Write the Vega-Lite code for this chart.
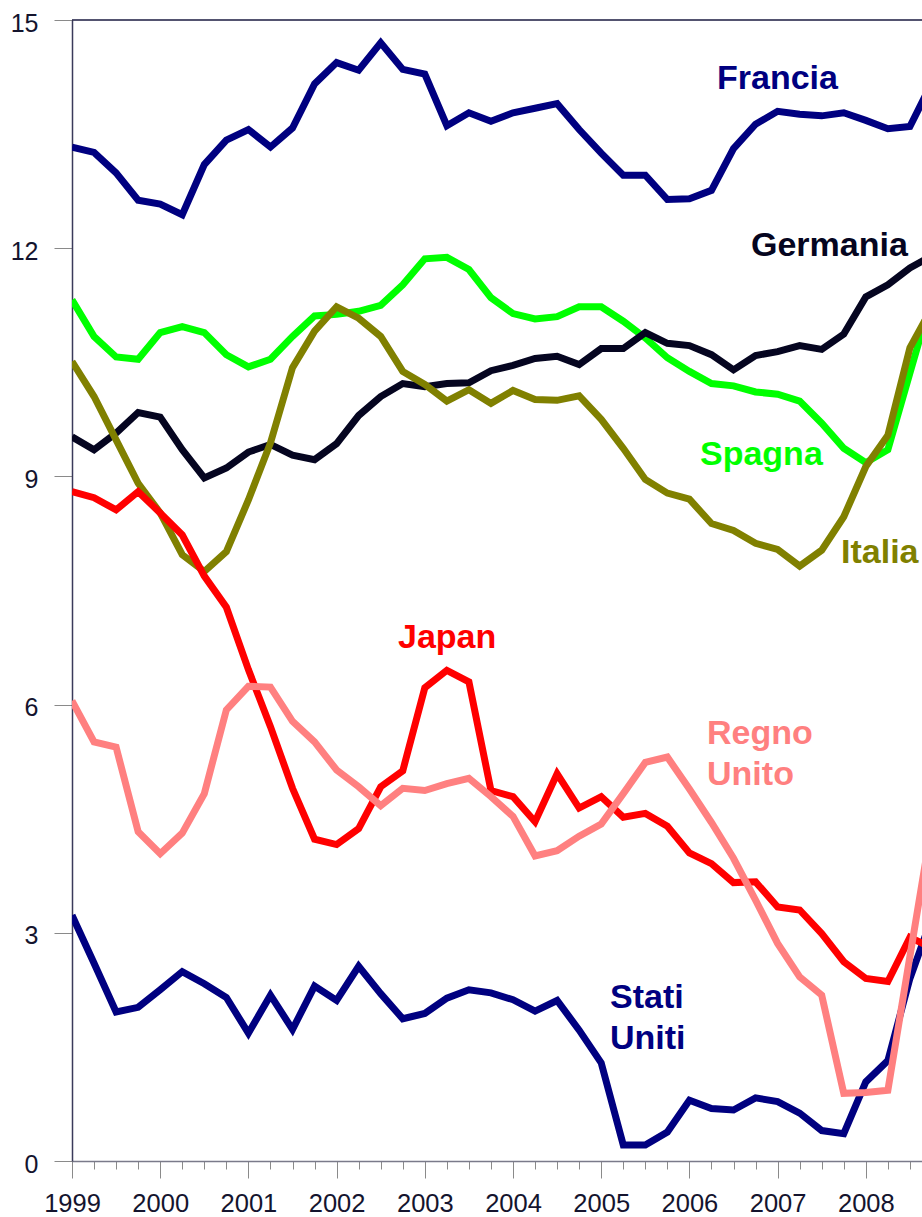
{
  "$schema": "https://vega.github.io/schema/vega-lite/v6.json",
  "width": 850,
  "height": 1141,
  "autosize": {"type": "none"},
  "padding": {"left": 72, "top": 20, "right": 0, "bottom": 56},
  "background": "white",
  "config": {
    "view": {"stroke": null},
    "font": "Liberation Sans",
    "axisY": {"tickSize": 18, "tickColor": "#8a8a8a", "tickWidth": 1, "domainColor": "#3a3a5a", "domainWidth": 1.5, "labelFontSize": 25, "labelColor": "#14142e", "labelFont": "Liberation Sans", "labelPadding": 16, "labelOffset": 3, "grid": false, "title": null}
  },
  "datasets": {
    "series": [
      {"t":1999.00,"s":"Spagna","v":11.32},{"t":1999.25,"s":"Spagna","v":10.84},{"t":1999.50,"s":"Spagna","v":10.57},{"t":1999.75,"s":"Spagna","v":10.54},
      {"t":2000.00,"s":"Spagna","v":10.89},{"t":2000.25,"s":"Spagna","v":10.97},{"t":2000.50,"s":"Spagna","v":10.89},{"t":2000.75,"s":"Spagna","v":10.60},
      {"t":2001.00,"s":"Spagna","v":10.44},{"t":2001.25,"s":"Spagna","v":10.54},{"t":2001.50,"s":"Spagna","v":10.84},{"t":2001.75,"s":"Spagna","v":11.11},
      {"t":2002.00,"s":"Spagna","v":11.13},{"t":2002.25,"s":"Spagna","v":11.17},{"t":2002.50,"s":"Spagna","v":11.25},{"t":2002.75,"s":"Spagna","v":11.52},
      {"t":2003.00,"s":"Spagna","v":11.86},{"t":2003.25,"s":"Spagna","v":11.88},{"t":2003.50,"s":"Spagna","v":11.72},{"t":2003.75,"s":"Spagna","v":11.35},
      {"t":2004.00,"s":"Spagna","v":11.14},{"t":2004.25,"s":"Spagna","v":11.07},{"t":2004.50,"s":"Spagna","v":11.10},{"t":2004.75,"s":"Spagna","v":11.23},
      {"t":2005.00,"s":"Spagna","v":11.23},{"t":2005.25,"s":"Spagna","v":11.04},{"t":2005.50,"s":"Spagna","v":10.82},{"t":2005.75,"s":"Spagna","v":10.56},
      {"t":2006.00,"s":"Spagna","v":10.38},{"t":2006.25,"s":"Spagna","v":10.22},{"t":2006.50,"s":"Spagna","v":10.19},{"t":2006.75,"s":"Spagna","v":10.11},
      {"t":2007.00,"s":"Spagna","v":10.08},{"t":2007.25,"s":"Spagna","v":9.99},{"t":2007.50,"s":"Spagna","v":9.70},{"t":2007.75,"s":"Spagna","v":9.37},
      {"t":2008.00,"s":"Spagna","v":9.18},{"t":2008.25,"s":"Spagna","v":9.35},{"t":2008.50,"s":"Spagna","v":10.36},{"t":2008.75,"s":"Spagna","v":11.36},

      {"t":1999.00,"s":"Germania","v":9.52},{"t":1999.25,"s":"Germania","v":9.35},{"t":1999.50,"s":"Germania","v":9.57},{"t":1999.75,"s":"Germania","v":9.84},
      {"t":2000.00,"s":"Germania","v":9.78},{"t":2000.25,"s":"Germania","v":9.35},{"t":2000.50,"s":"Germania","v":8.98},{"t":2000.75,"s":"Germania","v":9.11},
      {"t":2001.00,"s":"Germania","v":9.32},{"t":2001.25,"s":"Germania","v":9.42},{"t":2001.50,"s":"Germania","v":9.28},{"t":2001.75,"s":"Germania","v":9.22},
      {"t":2002.00,"s":"Germania","v":9.43},{"t":2002.25,"s":"Germania","v":9.80},{"t":2002.50,"s":"Germania","v":10.05},{"t":2002.75,"s":"Germania","v":10.22},
      {"t":2003.00,"s":"Germania","v":10.18},{"t":2003.25,"s":"Germania","v":10.22},{"t":2003.50,"s":"Germania","v":10.23},{"t":2003.75,"s":"Germania","v":10.39},
      {"t":2004.00,"s":"Germania","v":10.46},{"t":2004.25,"s":"Germania","v":10.55},{"t":2004.50,"s":"Germania","v":10.58},{"t":2004.75,"s":"Germania","v":10.47},
      {"t":2005.00,"s":"Germania","v":10.68},{"t":2005.25,"s":"Germania","v":10.68},{"t":2005.50,"s":"Germania","v":10.89},{"t":2005.75,"s":"Germania","v":10.75},
      {"t":2006.00,"s":"Germania","v":10.72},{"t":2006.25,"s":"Germania","v":10.60},{"t":2006.50,"s":"Germania","v":10.40},{"t":2006.75,"s":"Germania","v":10.59},
      {"t":2007.00,"s":"Germania","v":10.64},{"t":2007.25,"s":"Germania","v":10.72},{"t":2007.50,"s":"Germania","v":10.67},{"t":2007.75,"s":"Germania","v":10.87},
      {"t":2008.00,"s":"Germania","v":11.36},{"t":2008.25,"s":"Germania","v":11.52},{"t":2008.50,"s":"Germania","v":11.74},{"t":2008.75,"s":"Germania","v":11.90},

      {"t":1999.00,"s":"Italia","v":10.51},{"t":1999.25,"s":"Italia","v":10.05},{"t":1999.50,"s":"Italia","v":9.48},{"t":1999.75,"s":"Italia","v":8.91},
      {"t":2000.00,"s":"Italia","v":8.52},{"t":2000.25,"s":"Italia","v":7.97},{"t":2000.50,"s":"Italia","v":7.75},{"t":2000.75,"s":"Italia","v":8.01},
      {"t":2001.00,"s":"Italia","v":8.69},{"t":2001.25,"s":"Italia","v":9.44},{"t":2001.50,"s":"Italia","v":10.43},{"t":2001.75,"s":"Italia","v":10.91},
      {"t":2002.00,"s":"Italia","v":11.23},{"t":2002.25,"s":"Italia","v":11.08},{"t":2002.50,"s":"Italia","v":10.84},{"t":2002.75,"s":"Italia","v":10.38},
      {"t":2003.00,"s":"Italia","v":10.21},{"t":2003.25,"s":"Italia","v":9.99},{"t":2003.50,"s":"Italia","v":10.14},{"t":2003.75,"s":"Italia","v":9.96},
      {"t":2004.00,"s":"Italia","v":10.13},{"t":2004.25,"s":"Italia","v":10.01},{"t":2004.50,"s":"Italia","v":10.00},{"t":2004.75,"s":"Italia","v":10.06},
      {"t":2005.00,"s":"Italia","v":9.75},{"t":2005.25,"s":"Italia","v":9.37},{"t":2005.50,"s":"Italia","v":8.96},{"t":2005.75,"s":"Italia","v":8.78},
      {"t":2006.00,"s":"Italia","v":8.70},{"t":2006.25,"s":"Italia","v":8.38},{"t":2006.50,"s":"Italia","v":8.29},{"t":2006.75,"s":"Italia","v":8.12},
      {"t":2007.00,"s":"Italia","v":8.04},{"t":2007.25,"s":"Italia","v":7.82},{"t":2007.50,"s":"Italia","v":8.03},{"t":2007.75,"s":"Italia","v":8.47},
      {"t":2008.00,"s":"Italia","v":9.13},{"t":2008.25,"s":"Italia","v":9.54},{"t":2008.50,"s":"Italia","v":10.69},{"t":2008.75,"s":"Italia","v":11.22},

      {"t":1999.00,"s":"Francia","v":13.33},{"t":1999.25,"s":"Francia","v":13.26},{"t":1999.50,"s":"Francia","v":12.99},{"t":1999.75,"s":"Francia","v":12.63},
      {"t":2000.00,"s":"Francia","v":12.58},{"t":2000.25,"s":"Francia","v":12.44},{"t":2000.50,"s":"Francia","v":13.10},{"t":2000.75,"s":"Francia","v":13.42},
      {"t":2001.00,"s":"Francia","v":13.56},{"t":2001.25,"s":"Francia","v":13.33},{"t":2001.50,"s":"Francia","v":13.58},{"t":2001.75,"s":"Francia","v":14.16},
      {"t":2002.00,"s":"Francia","v":14.44},{"t":2002.25,"s":"Francia","v":14.34},{"t":2002.50,"s":"Francia","v":14.70},{"t":2002.75,"s":"Francia","v":14.35},
      {"t":2003.00,"s":"Francia","v":14.29},{"t":2003.25,"s":"Francia","v":13.61},{"t":2003.50,"s":"Francia","v":13.78},{"t":2003.75,"s":"Francia","v":13.67},
      {"t":2004.00,"s":"Francia","v":13.78},{"t":2004.25,"s":"Francia","v":13.84},{"t":2004.50,"s":"Francia","v":13.90},{"t":2004.75,"s":"Francia","v":13.56},
      {"t":2005.00,"s":"Francia","v":13.25},{"t":2005.25,"s":"Francia","v":12.96},{"t":2005.50,"s":"Francia","v":12.96},{"t":2005.75,"s":"Francia","v":12.64},
      {"t":2006.00,"s":"Francia","v":12.65},{"t":2006.25,"s":"Francia","v":12.76},{"t":2006.50,"s":"Francia","v":13.31},{"t":2006.75,"s":"Francia","v":13.63},
      {"t":2007.00,"s":"Francia","v":13.80},{"t":2007.25,"s":"Francia","v":13.76},{"t":2007.50,"s":"Francia","v":13.74},{"t":2007.75,"s":"Francia","v":13.78},
      {"t":2008.00,"s":"Francia","v":13.68},{"t":2008.25,"s":"Francia","v":13.57},{"t":2008.50,"s":"Francia","v":13.60},{"t":2008.75,"s":"Francia","v":14.18},

      {"t":1999.00,"s":"Stati Uniti","v":3.23},{"t":1999.25,"s":"Stati Uniti","v":2.60},{"t":1999.50,"s":"Stati Uniti","v":1.96},{"t":1999.75,"s":"Stati Uniti","v":2.02},
      {"t":2000.00,"s":"Stati Uniti","v":2.25},{"t":2000.25,"s":"Stati Uniti","v":2.49},{"t":2000.50,"s":"Stati Uniti","v":2.33},{"t":2000.75,"s":"Stati Uniti","v":2.15},
      {"t":2001.00,"s":"Stati Uniti","v":1.68},{"t":2001.25,"s":"Stati Uniti","v":2.18},{"t":2001.50,"s":"Stati Uniti","v":1.73},{"t":2001.75,"s":"Stati Uniti","v":2.30},
      {"t":2002.00,"s":"Stati Uniti","v":2.11},{"t":2002.25,"s":"Stati Uniti","v":2.56},{"t":2002.50,"s":"Stati Uniti","v":2.20},{"t":2002.75,"s":"Stati Uniti","v":1.87},
      {"t":2003.00,"s":"Stati Uniti","v":1.94},{"t":2003.25,"s":"Stati Uniti","v":2.14},{"t":2003.50,"s":"Stati Uniti","v":2.25},{"t":2003.75,"s":"Stati Uniti","v":2.21},
      {"t":2004.00,"s":"Stati Uniti","v":2.12},{"t":2004.25,"s":"Stati Uniti","v":1.97},{"t":2004.50,"s":"Stati Uniti","v":2.11},{"t":2004.75,"s":"Stati Uniti","v":1.72},
      {"t":2005.00,"s":"Stati Uniti","v":1.29},{"t":2005.25,"s":"Stati Uniti","v":0.21},{"t":2005.50,"s":"Stati Uniti","v":0.21},{"t":2005.75,"s":"Stati Uniti","v":0.38},
      {"t":2006.00,"s":"Stati Uniti","v":0.80},{"t":2006.25,"s":"Stati Uniti","v":0.69},{"t":2006.50,"s":"Stati Uniti","v":0.67},{"t":2006.75,"s":"Stati Uniti","v":0.83},
      {"t":2007.00,"s":"Stati Uniti","v":0.78},{"t":2007.25,"s":"Stati Uniti","v":0.63},{"t":2007.50,"s":"Stati Uniti","v":0.40},{"t":2007.75,"s":"Stati Uniti","v":0.36},
      {"t":2008.00,"s":"Stati Uniti","v":1.04},{"t":2008.25,"s":"Stati Uniti","v":1.32},{"t":2008.50,"s":"Stati Uniti","v":2.40},{"t":2008.75,"s":"Stati Uniti","v":3.20},

      {"t":1999.00,"s":"Japan","v":8.80},{"t":1999.25,"s":"Japan","v":8.72},{"t":1999.50,"s":"Japan","v":8.56},{"t":1999.75,"s":"Japan","v":8.80},
      {"t":2000.00,"s":"Japan","v":8.52},{"t":2000.25,"s":"Japan","v":8.23},{"t":2000.50,"s":"Japan","v":7.69},{"t":2000.75,"s":"Japan","v":7.28},
      {"t":2001.00,"s":"Japan","v":6.46},{"t":2001.25,"s":"Japan","v":5.71},{"t":2001.50,"s":"Japan","v":4.90},{"t":2001.75,"s":"Japan","v":4.23},
      {"t":2002.00,"s":"Japan","v":4.16},{"t":2002.25,"s":"Japan","v":4.37},{"t":2002.50,"s":"Japan","v":4.92},{"t":2002.75,"s":"Japan","v":5.13},
      {"t":2003.00,"s":"Japan","v":6.22},{"t":2003.25,"s":"Japan","v":6.45},{"t":2003.50,"s":"Japan","v":6.30},{"t":2003.75,"s":"Japan","v":4.87},
      {"t":2004.00,"s":"Japan","v":4.79},{"t":2004.25,"s":"Japan","v":4.46},{"t":2004.50,"s":"Japan","v":5.09},{"t":2004.75,"s":"Japan","v":4.64},
      {"t":2005.00,"s":"Japan","v":4.79},{"t":2005.25,"s":"Japan","v":4.52},{"t":2005.50,"s":"Japan","v":4.57},{"t":2005.75,"s":"Japan","v":4.40},
      {"t":2006.00,"s":"Japan","v":4.05},{"t":2006.25,"s":"Japan","v":3.91},{"t":2006.50,"s":"Japan","v":3.66},{"t":2006.75,"s":"Japan","v":3.67},
      {"t":2007.00,"s":"Japan","v":3.34},{"t":2007.25,"s":"Japan","v":3.30},{"t":2007.50,"s":"Japan","v":2.99},{"t":2007.75,"s":"Japan","v":2.62},
      {"t":2008.00,"s":"Japan","v":2.40},{"t":2008.25,"s":"Japan","v":2.36},{"t":2008.50,"s":"Japan","v":2.94},{"t":2008.75,"s":"Japan","v":2.80},

      {"t":1999.00,"s":"Regno Unito","v":6.05},{"t":1999.25,"s":"Regno Unito","v":5.51},{"t":1999.50,"s":"Regno Unito","v":5.44},{"t":1999.75,"s":"Regno Unito","v":4.33},
      {"t":2000.00,"s":"Regno Unito","v":4.04},{"t":2000.25,"s":"Regno Unito","v":4.31},{"t":2000.50,"s":"Regno Unito","v":4.83},{"t":2000.75,"s":"Regno Unito","v":5.93},
      {"t":2001.00,"s":"Regno Unito","v":6.24},{"t":2001.25,"s":"Regno Unito","v":6.23},{"t":2001.50,"s":"Regno Unito","v":5.78},{"t":2001.75,"s":"Regno Unito","v":5.51},
      {"t":2002.00,"s":"Regno Unito","v":5.14},{"t":2002.25,"s":"Regno Unito","v":4.92},{"t":2002.50,"s":"Regno Unito","v":4.67},{"t":2002.75,"s":"Regno Unito","v":4.90},
      {"t":2003.00,"s":"Regno Unito","v":4.87},{"t":2003.25,"s":"Regno Unito","v":4.96},{"t":2003.50,"s":"Regno Unito","v":5.03},{"t":2003.75,"s":"Regno Unito","v":4.79},
      {"t":2004.00,"s":"Regno Unito","v":4.53},{"t":2004.25,"s":"Regno Unito","v":4.01},{"t":2004.50,"s":"Regno Unito","v":4.08},{"t":2004.75,"s":"Regno Unito","v":4.27},
      {"t":2005.00,"s":"Regno Unito","v":4.43},{"t":2005.25,"s":"Regno Unito","v":4.83},{"t":2005.50,"s":"Regno Unito","v":5.24},{"t":2005.75,"s":"Regno Unito","v":5.31},
      {"t":2006.00,"s":"Regno Unito","v":4.89},{"t":2006.25,"s":"Regno Unito","v":4.45},{"t":2006.50,"s":"Regno Unito","v":3.98},{"t":2006.75,"s":"Regno Unito","v":3.43},
      {"t":2007.00,"s":"Regno Unito","v":2.86},{"t":2007.25,"s":"Regno Unito","v":2.42},{"t":2007.50,"s":"Regno Unito","v":2.18},{"t":2007.75,"s":"Regno Unito","v":0.89},
      {"t":2008.00,"s":"Regno Unito","v":0.90},{"t":2008.25,"s":"Regno Unito","v":0.93},{"t":2008.50,"s":"Regno Unito","v":2.69},{"t":2008.75,"s":"Regno Unito","v":4.44}
    ],
    "labels": [
      {"s":"Francia","label":"Francia","x":2006.313,"y":14.09},
      {"s":"Germania","label":"Germania","x":2006.698,"y":11.90},
      {"s":"Spagna","label":"Spagna","x":2006.120,"y":9.15},
      {"s":"Italia","label":"Italia","x":2007.719,"y":7.86},
      {"s":"Japan","label":"Japan","x":2002.696,"y":6.74},
      {"s":"Regno Unito","label":"Regno\nUnito","x":2006.200,"y":5.48},
      {"s":"Stati Uniti","label":"Stati\nUniti","x":2005.100,"y":2.01}
    ],
    "frame": [{"top": 15}]
  },
  "resolve": {"axis": {"x": "independent", "y": "shared"}},
  "layer": [
    {
      "data": {"name": "series"},
      "mark": {"type": "point", "opacity": 0},
      "encoding": {
        "x": {
          "field": "t", "type": "quantitative",
          "scale": {"domain": [1999, 2008.637], "nice": false, "zero": false},
          "axis": {
            "orient": "bottom", "title": null, "labels": false, "domain": false, "grid": false,
            "values": [1999.25,1999.5,1999.75,2000.25,2000.5,2000.75,2001.25,2001.5,2001.75,2002.25,2002.5,2002.75,2003.25,2003.5,2003.75,2004.25,2004.5,2004.75,2005.25,2005.5,2005.75,2006.25,2006.5,2006.75,2007.25,2007.5,2007.75,2008.25,2008.5],
            "tickSize": 8, "tickColor": "#8a8a8a", "tickWidth": 1
          }
        },
        "y": {
          "field": "v", "type": "quantitative",
          "scale": {"domain": [0, 15], "nice": false, "zero": true},
          "axis": {"values": [0,3,6,9,12,15], "format": "d", "title": null}
        }
      }
    },
    {
      "data": {"name": "frame"},
      "mark": {"type": "rule", "color": "#1a1a40", "strokeWidth": 1.5},
      "encoding": {
        "y": {"field": "top", "type": "quantitative", "axis": {"values": [0,3,6,9,12,15], "format": "d", "title": null}}
      }
    },
    {
      "data": {"name": "series"},
      "mark": {"type": "line", "strokeWidth": 7, "clip": true, "strokeJoin": "miter", "strokeCap": "butt"},
      "encoding": {
        "x": {
          "field": "t", "type": "quantitative",
          "scale": {"domain": [1999, 2008.637], "nice": false, "zero": false},
          "axis": {
            "orient": "bottom", "title": null, "grid": false,
            "values": [1999,2000,2001,2002,2003,2004,2005,2006,2007,2008],
            "format": "d", "tickSize": 17, "tickColor": "#8a8a8a", "tickWidth": 1,
            "domainColor": "#7a7a8a", "domainWidth": 1.5,
            "labelFontSize": 25.5, "labelColor": "#14142e", "labelFont": "Liberation Sans",
            "labelPadding": 13, "labelFlush": false, "labelOverlap": false
          }
        },
        "y": {"field": "v", "type": "quantitative", "axis": {"values": [0,3,6,9,12,15], "format": "d", "title": null}},
        "color": {
          "field": "s", "type": "nominal",
          "scale": {
            "domain": ["Spagna","Germania","Italia","Francia","Stati Uniti","Japan","Regno Unito"],
            "range": ["#00ff00","#050520","#808000","#000080","#000080","#ff0000","#ff8080"]
          },
          "legend": null
        }
      }
    },
    {
      "data": {"name": "labels"},
      "mark": {"type": "text", "align": "left", "baseline": "alphabetic", "fontSize": 34, "fontWeight": "bold", "font": "Liberation Sans", "lineBreak": "\n", "lineHeight": 41},
      "encoding": {
        "x": {"field": "x", "type": "quantitative", "scale": {"domain": [1999, 2008.637], "nice": false, "zero": false}, "axis": null},
        "y": {"field": "y", "type": "quantitative", "axis": {"values": [0,3,6,9,12,15], "format": "d", "title": null}},
        "text": {"field": "label"},
        "color": {"field": "s", "type": "nominal", "legend": null}
      }
    }
  ]
}
